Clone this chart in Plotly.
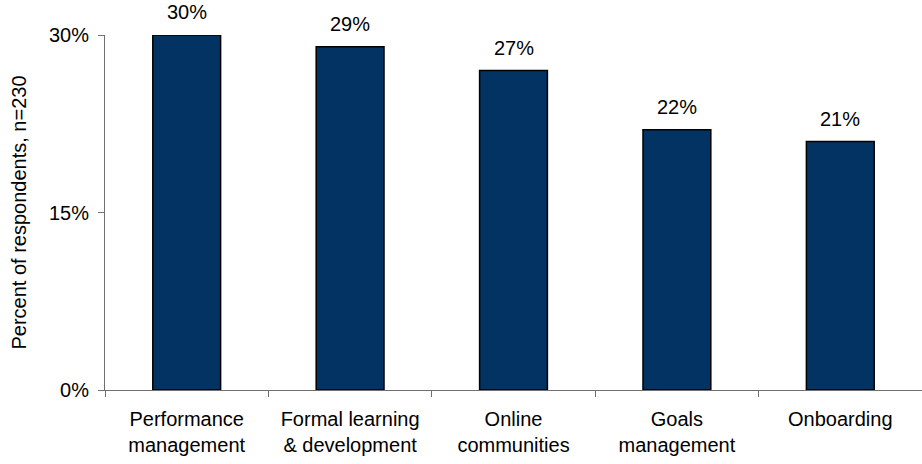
import plotly.graph_objects as go

categories = ["Performance<br>management", "Formal learning<br>& development",
              "Online<br>communities", "Goals<br>management", "Onboarding"]
values = [30, 29, 27, 22, 21]
y_ticks = [0, 15, 30]
y_tick_labels = ["0%", "15%", "30%"]

font_family = "Liberation Sans, Arial, sans-serif"

fig = go.Figure(
    go.Bar(
        x=categories,
        y=values,
        marker=dict(color="#023362", line=dict(color="#000000", width=1.5)),
        width=0.415,
        cliponaxis=False,
    )
)

# value labels above each bar
for c, v in zip(categories, values):
    fig.add_annotation(x=c, y=v, text=f"{v}%", showarrow=False, yshift=23,
                       font=dict(size=20, color="#000000", family=font_family))

fig.update_layout(
    width=922, height=464,
    margin=dict(l=105, r=0, t=35, b=74),
    plot_bgcolor="white", paper_bgcolor="white",
    showlegend=False,
    font=dict(family=font_family, size=20, color="#000000"),
)
fig.update_xaxes(
    type="category", showline=True, linecolor="#707070", linewidth=1,
    ticks="outside", tickson="boundaries", ticklen=6, tickcolor="#707070",
    tickfont=dict(size=20), showgrid=False, ticklabelstandoff=11,
)
fig.update_yaxes(
    range=[0, 30], tickvals=y_ticks, ticktext=y_tick_labels,
    showline=True, linecolor="#707070", linewidth=1,
    ticks="outside", ticklen=6, tickcolor="#707070",
    tickfont=dict(size=20), showgrid=False, zeroline=False, ticklabelstandoff=5,
    title=dict(text="Percent of respondents, n=230", font=dict(size=20), standoff=16),
)

fig.write_html("out.html")
